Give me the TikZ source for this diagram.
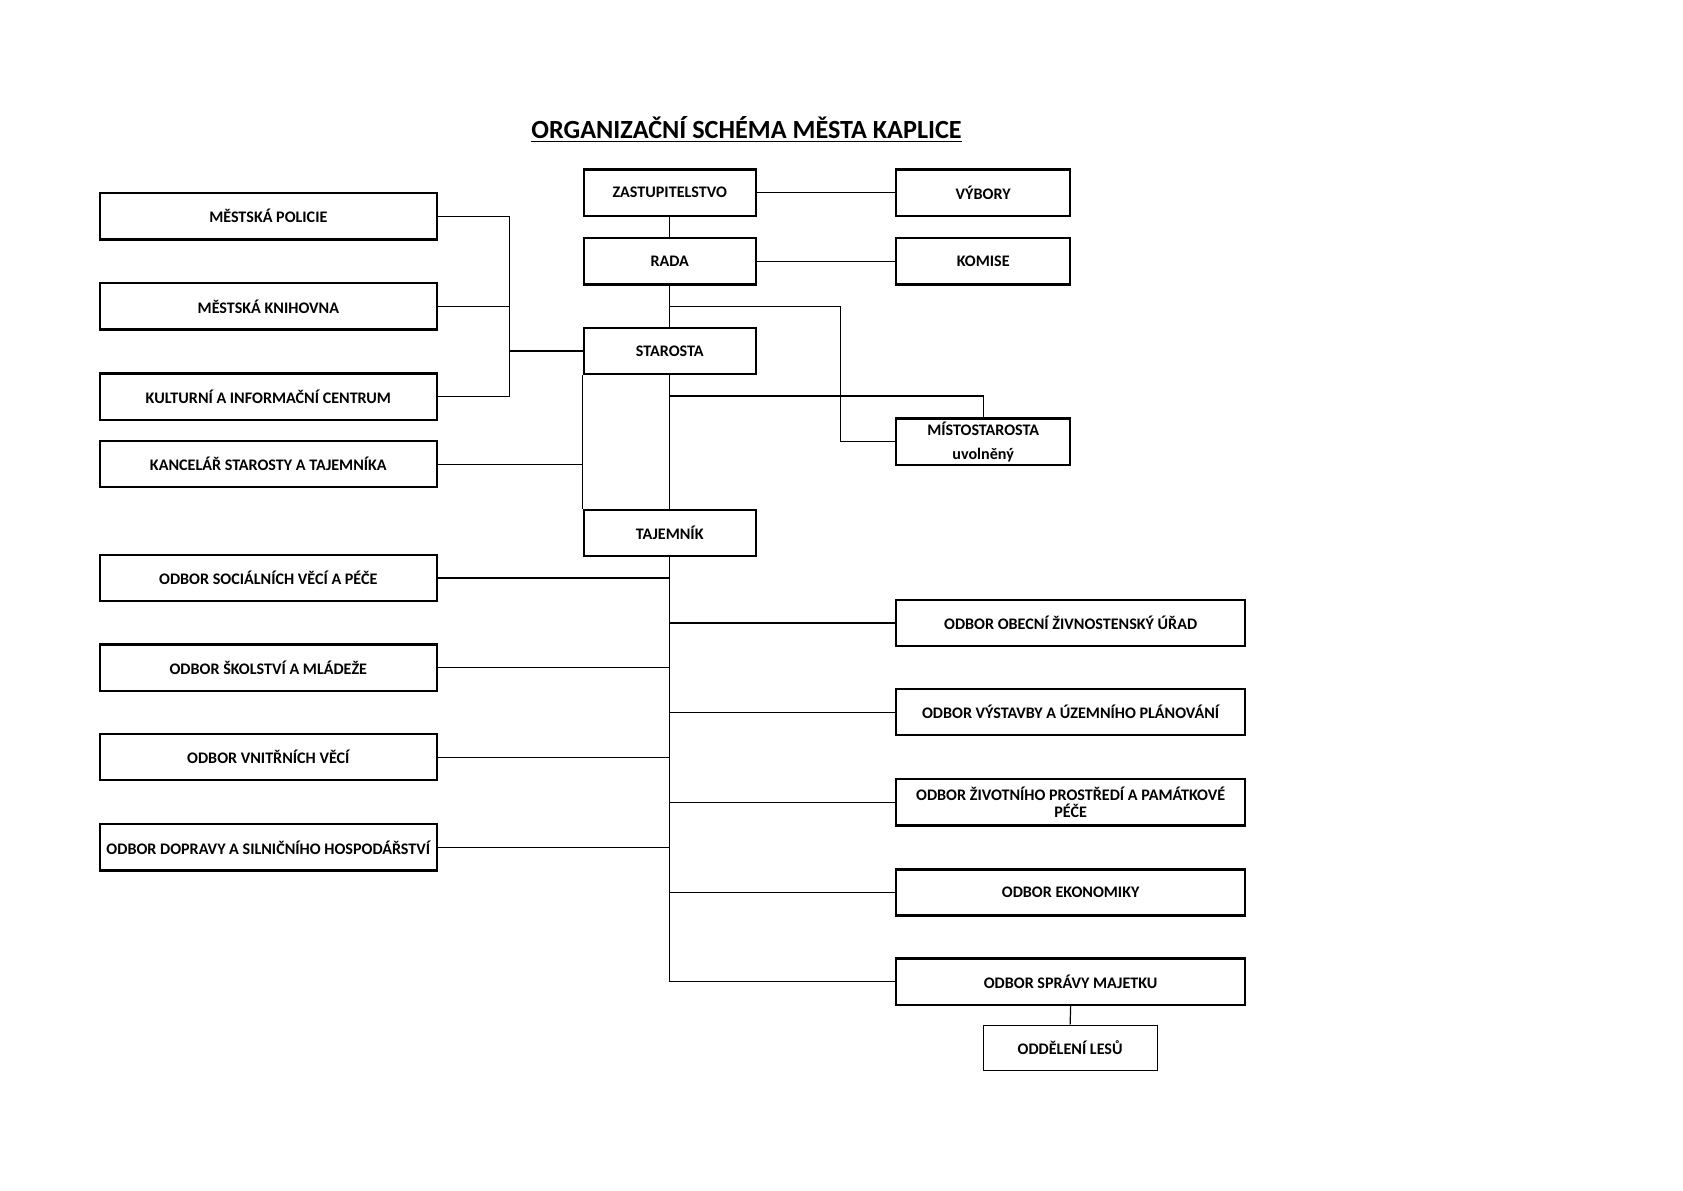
\documentclass[tikz,border=0pt]{standalone}
\usepackage{fontspec}
\setmainfont{Carlito}
\begin{document}
\begin{tikzpicture}[x=0.53665pt,y=-0.53665pt,
  box/.style={draw,line width=1.15pt,inner sep=0pt,align=center,font=\fontsize{8.05}{8.6}\selectfont\bfseries},
  lbox/.style={box,minimum width=168.5pt,minimum height=23.1pt},
  cbox/.style={box,minimum width=85.9pt,minimum height=23.1pt},
  rbox/.style={box,minimum width=86.9pt,minimum height=23.1pt},
  wbox/.style={box,minimum width=174.4pt,minimum height=23.1pt},
  thinbox/.style={box,line width=0.45pt,minimum width=86.9pt,minimum height=22.5pt},
  conn/.style={line width=0.6pt}]
\useasboundingbox (0,0) rectangle (1568,1108.7);
\node[font=\fontsize{13.1}{15}\selectfont\bfseries] (title) at (695.5,121) {\underline{ORGANIZAČNÍ SCHÉMA MĚSTA KAPLICE}};
% left column
\node[lbox] (pol) at (250,201.5) {MĚSTSKÁ POLICIE};
\node[lbox] (kni) at (250,285.5) {MĚSTSKÁ KNIHOVNA};
\node[lbox] (kic) at (250,369.5) {KULTURNÍ A INFORMAČNÍ CENTRUM};
\node[lbox] (kan) at (250,432.5) {KANCELÁŘ STAROSTY A TAJEMNÍKA};
\node[lbox] (soc) at (250,538.5) {ODBOR SOCIÁLNÍCH VĚCÍ A PÉČE};
\node[lbox] (sko) at (250,622) {ODBOR ŠKOLSTVÍ A MLÁDEŽE};
\node[lbox] (vni) at (250,705.5) {ODBOR VNITŘNÍCH VĚCÍ};
\node[lbox] (dop) at (250,789.5) {ODBOR DOPRAVY A SILNIČNÍHO HOSPODÁŘSTVÍ};
% center column
\node[cbox] (zas) at (624,179.5) {ZASTUPITELSTVO};
\node[cbox] (rada) at (624,243.5) {RADA};
\node[cbox] (sta) at (624,327) {STAROSTA};
\node[cbox] (taj) at (624,496.5) {TAJEMNÍK};
% right column
\node[rbox] (vyb) at (916,179.5) {VÝBORY};
\node[rbox] (kom) at (916,243.5) {KOMISE};
\node[rbox] (mis) at (916,411.5) {MÍSTOSTAROSTA\\[3.5pt]uvolněný};
\node[wbox] (zivn) at (997.5,580.5) {ODBOR OBECNÍ ŽIVNOSTENSKÝ ÚŘAD};
\node[wbox] (vys) at (997.5,663.5) {ODBOR VÝSTAVBY A ÚZEMNÍHO PLÁNOVÁNÍ};
\node[wbox] (zp) at (997.5,747.5) {ODBOR ŽIVOTNÍHO PROSTŘEDÍ A PAMÁTKOVÉ\\PÉČE};
\node[wbox] (eko) at (997.5,831.5) {ODBOR EKONOMIKY};
\node[wbox] (maj) at (997.5,914.5) {ODBOR SPRÁVY MAJETKU};
\node[thinbox] (les) at (997,976) {ODDĚLENÍ LESŮ};
% connectors
\coordinate (lbus) at (475,327);
\draw[conn] (pol.east) -- (pol.east -| lbus) -- (kic.east -| lbus) -- (kic.east);
\draw[conn] (kni.east) -- (kni.east -| lbus);
\draw[conn] (lbus) -- (sta.west);
\draw[conn] (zas) -- (vyb);
\draw[conn] (rada) -- (kom);
\draw[conn] (zas.south) -- (rada.north);
\draw[conn] (rada.south) -- (sta.north);
\coordinate (j1) at (624,285.5);
\coordinate (j1r) at (783,285.5);
\draw[conn] (j1) -- (j1r) |- (mis.west);
\draw[conn] (sta.south) -- (taj.north);
\coordinate (j2) at (624,369);
\draw[conn] (j2) -| (mis.north);
\draw[conn] (sta.south west) -- (taj.north west);
\draw[conn] (kan.east) -- (kan.east -| sta.west);
\draw[conn] (taj.south) -- (taj.south |- maj.west) -- (maj.west);
\foreach \n in {soc,sko,vni,dop}{\draw[conn] (\n.east) -- (\n.east -| taj.south);}
\foreach \n in {zivn,vys,zp,eko}{\draw[conn] (taj.south |- \n.west) -- (\n.west);}
\draw[conn] (maj.south) -- (les.north);
\end{tikzpicture}
\end{document}
